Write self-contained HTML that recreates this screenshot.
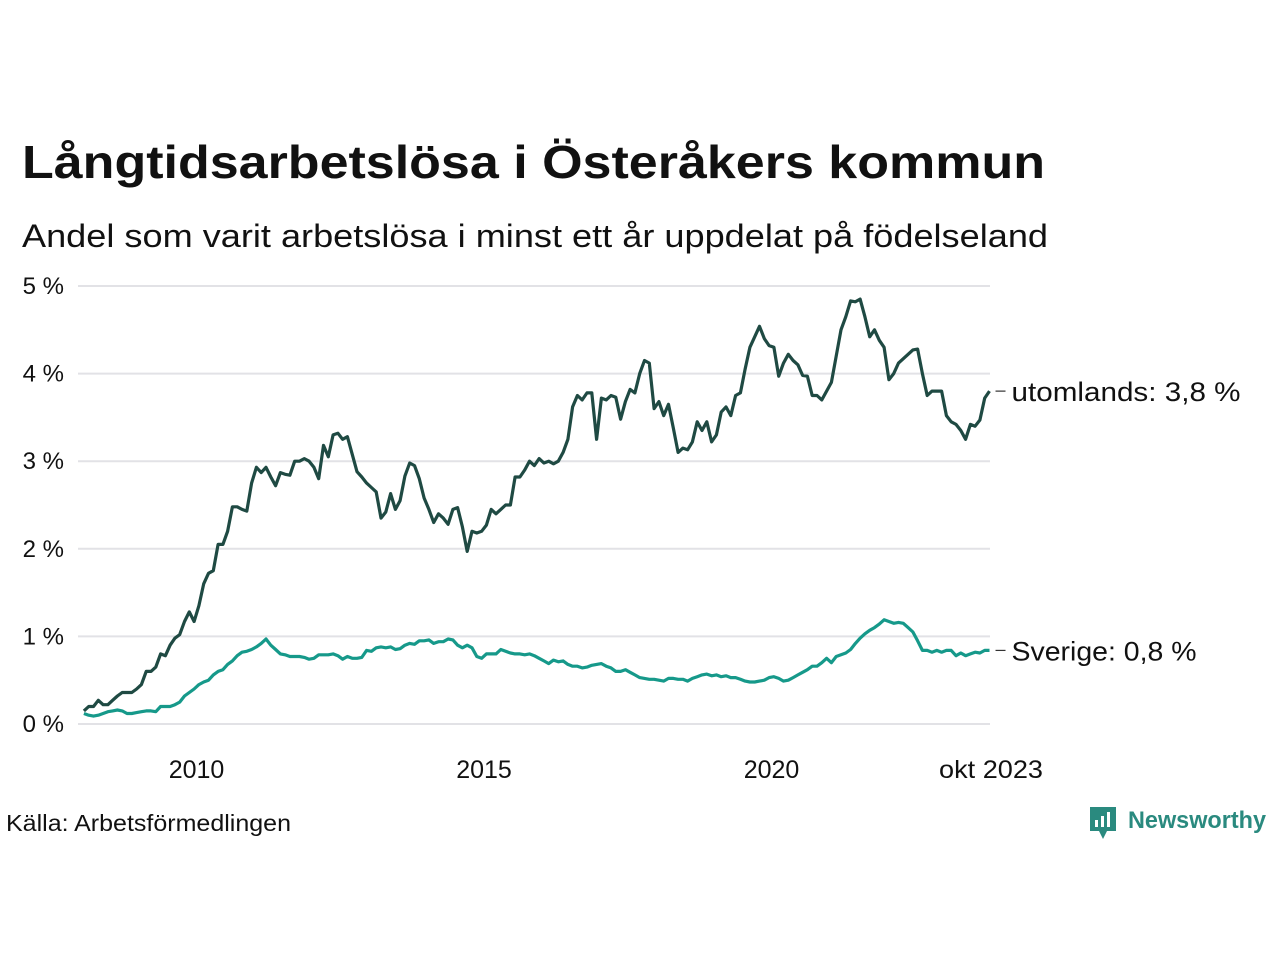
<!DOCTYPE html>
<html><head><meta charset="utf-8"><style>
body{margin:0;background:#fff;}
svg text{font-family:"Liberation Sans","DejaVu Sans",sans-serif;fill:#111;}
</style></head><body>
<svg id="chart" width="1280" height="960" viewBox="0 0 1280 960" xmlns="http://www.w3.org/2000/svg">
<text x="22" y="178" font-size="46" font-weight="bold" textLength="1023" lengthAdjust="spacingAndGlyphs">Långtidsarbetslösa i Österåkers kommun</text>
<text x="22" y="247" font-size="32" textLength="1026" lengthAdjust="spacingAndGlyphs">Andel som varit arbetslösa i minst ett år uppdelat på födelseland</text>
<g id="grid"></g>
<g id="series"></g>
<text x="6" y="831" font-size="23" textLength="285" lengthAdjust="spacingAndGlyphs">Källa: Arbetsförmedlingen</text>
<g>
<path d="M1090 807h26v24h-9l-4 8-4-8h-9z" fill="#2a8a7f"/>
<rect x="1095" y="820" width="3" height="7" fill="#fff"/><rect x="1101" y="816" width="3" height="11" fill="#fff"/><rect x="1107" y="812" width="3" height="15" fill="#fff"/>
<text x="1128" y="828" font-size="24" font-weight="bold" style="fill:#2a8a7f" textLength="138" lengthAdjust="spacingAndGlyphs">Newsworthy</text>
</g>
</svg>
<script>
const yTicks=[0,1,2,3,4,5];
const yTickLabels=["0 %","1 %","2 %","3 %","4 %","5 %"];
const xTicks=[2010,2015,2020];
const xTickLabels=["2010","2015","2020"];
const startYear=2008, startMonth=0.5;
const utomlands=[0.15,0.2,0.2,0.27,0.22,0.22,0.27,0.32,0.36,0.36,0.36,0.4,
0.45,0.6,0.6,0.65,0.8,0.78,0.9,0.98,1.02,1.17,1.28,1.17,
1.35,1.6,1.72,1.75,2.05,2.05,2.2,2.48,2.48,2.45,2.43,2.75,
2.93,2.87,2.93,2.82,2.72,2.87,2.85,2.84,3.0,3.0,3.03,3.0,
2.93,2.8,3.18,3.05,3.3,3.32,3.25,3.28,3.08,2.88,2.82,2.75,
2.7,2.65,2.35,2.42,2.63,2.45,2.55,2.83,2.98,2.95,2.8,2.58,
2.45,2.3,2.4,2.35,2.28,2.45,2.47,2.25,1.97,2.2,2.18,2.2,
2.27,2.45,2.4,2.45,2.5,2.5,2.82,2.82,2.9,3.0,2.95,3.03,
2.98,3.0,2.97,3.0,3.1,3.25,3.62,3.75,3.7,3.78,3.78,3.25,
3.72,3.7,3.75,3.73,3.48,3.68,3.82,3.78,4.0,4.15,4.12,3.6,
3.68,3.52,3.65,3.38,3.1,3.15,3.13,3.22,3.45,3.35,3.45,3.22,
3.3,3.56,3.62,3.52,3.75,3.78,4.05,4.3,4.42,4.54,4.4,4.32,
4.3,3.97,4.12,4.22,4.15,4.1,3.98,3.97,3.75,3.75,3.7,3.8,
3.9,4.2,4.5,4.65,4.83,4.82,4.85,4.65,4.42,4.5,4.38,4.3,
3.93,4.0,4.12,4.17,4.22,4.27,4.28,4.0,3.75,3.8,3.8,3.8,
3.52,3.45,3.42,3.35,3.25,3.42,3.4,3.47,3.72,3.8];
const sverige=[0.12,0.1,0.09,0.1,0.12,0.14,0.15,0.16,0.15,0.12,0.12,0.13,
0.14,0.15,0.15,0.14,0.2,0.2,0.2,0.22,0.25,0.32,0.36,0.4,
0.45,0.48,0.5,0.56,0.6,0.62,0.68,0.72,0.78,0.82,0.83,0.85,
0.88,0.92,0.97,0.9,0.85,0.8,0.79,0.77,0.77,0.77,0.76,0.74,
0.75,0.79,0.79,0.79,0.8,0.78,0.74,0.77,0.75,0.75,0.76,0.84,
0.83,0.87,0.88,0.87,0.88,0.85,0.86,0.9,0.92,0.91,0.95,0.95,
0.96,0.92,0.94,0.94,0.97,0.96,0.9,0.87,0.9,0.87,0.77,0.75,
0.8,0.8,0.8,0.85,0.83,0.81,0.8,0.8,0.79,0.8,0.78,0.75,
0.72,0.69,0.73,0.71,0.72,0.68,0.66,0.66,0.64,0.65,0.67,0.68,
0.69,0.66,0.64,0.6,0.6,0.62,0.59,0.56,0.53,0.52,0.51,0.51,
0.5,0.49,0.52,0.52,0.51,0.51,0.49,0.52,0.54,0.56,0.57,0.55,
0.56,0.54,0.55,0.53,0.53,0.51,0.49,0.48,0.48,0.49,0.5,0.53,
0.54,0.52,0.49,0.5,0.53,0.56,0.59,0.62,0.66,0.66,0.7,0.75,
0.7,0.77,0.79,0.81,0.85,0.92,0.98,1.03,1.07,1.1,1.14,1.19,
1.17,1.15,1.16,1.15,1.1,1.05,0.95,0.84,0.84,0.82,0.84,0.82,
0.84,0.84,0.78,0.81,0.78,0.8,0.82,0.81,0.84,0.84];
const seriesNames=["utomlands","Sverige"];
const ns="http://www.w3.org/2000/svg";
const X=t=>484+(t-2015)*57.5;
const Y=v=>724-v*87.6;
const tOf=i=>startYear+(startMonth+i)/12;
const grid=document.getElementById('grid');
function mk(tag,attrs,parent){const e=document.createElementNS(ns,tag);for(const k in attrs)e.setAttribute(k,attrs[k]);parent.appendChild(e);return e;}
yTicks.forEach((v,i)=>{
 const l=mk('line',{x1:78,x2:990,y1:Y(v),y2:Y(v),stroke:'#e2e2e6','stroke-width':2},grid);
 
 
 const t=mk('text',{x:64,y:Y(v)+8,'text-anchor':'end','font-size':24},grid);
 t.textContent=yTickLabels[i];
 
 
});
xTicks.forEach((v,i)=>{
 const t=mk('text',{x:X(v),y:778,'text-anchor':'middle','font-size':25},grid);
 t.textContent=xTickLabels[i];
 
 
});
const lastT=tOf(utomlands.length-1);
const te=mk('text',{x:991,y:778,'text-anchor':'middle','font-size':25,textLength:104,lengthAdjust:'spacingAndGlyphs'},grid);
te.textContent="okt 2023";


const sg=document.getElementById('series');
function draw(data,color,name,label,w){
 const d=data.map((v,i)=>(i?'L':'M')+X(tOf(i)).toFixed(1)+' '+Y(v).toFixed(1)).join('');
 const p=mk('path',{d:d,fill:'none',stroke:color,'stroke-width':3.2,'stroke-linejoin':'round'},sg);
 
 
 const lv=data[data.length-1], lx=X(lastT);
 const tk=mk('line',{x1:lx+6,x2:lx+16,y1:Y(lv),y2:Y(lv),stroke:'#333','stroke-width':1.2},sg);
 
 
 const t=mk('text',{x:lx+22,y:Y(lv)+10,'font-size':27,textLength:w,lengthAdjust:'spacingAndGlyphs'},sg);
 t.textContent=label+': '+lv.toFixed(1).replace('.',',')+' %';
 
 
}
draw(utomlands,'#1f4a43','utomlands',seriesNames[0],229);
draw(sverige,'#16998a','sverige',seriesNames[1],185);
</script>
</body></html>
